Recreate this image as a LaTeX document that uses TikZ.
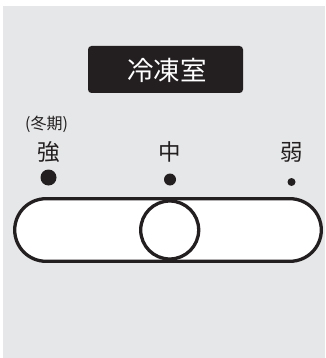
\documentclass[tikz,border=0pt]{standalone}
\usepackage{fontspec}
\newfontfamily\jpfont{Noto Sans CJK JP}
\definecolor{panelgrey}{HTML}{E6E7E8}
\definecolor{inkblack}{HTML}{231F20}
\tikzset{
  mark label/.style={inner sep=0pt, text=inkblack, font=\jpfont\fontsize{22.5}{22.5}\selectfont},
  dial line/.style={draw=inkblack, line width=3.3pt},
}
\begin{document}
\begin{tikzpicture}[x=1pt,y=-1pt]
            \useasboundingbox (0,0) rectangle (325,358) ;
            \fill[panelgrey] (3,6) rectangle (325,358) ;
            \fill[inkblack, rounded corners=3.5pt] (88,46) rectangle (243,93) ;
            \node[inner sep=0pt, text=white, font=\jpfont\fontsize{26.5}{26.5}\selectfont] (title) at (167,70) {冷凍室} ;
            \node[inner sep=0pt, text=inkblack, font=\jpfont\fontsize{16}{16}\selectfont] (winter) at (46.5,124) {(冬期)} ;
            \node[mark label] (strong) at (48.5,152) {強} ;
            \node[mark label] (middle) at (170,152) {中} ;
            \node[mark label] (weak) at (291.5,152) {弱} ;
            \fill[inkblack] (48.5,177.5) circle (8) ;
            \fill[inkblack] (170,179.5) circle (6) ;
            \fill[inkblack] (291.5,182) circle (4) ;
            \draw[dial line, fill=white, rounded corners=31.3pt] (14.7,198.7) rectangle (321.3,261.3) ;
            \draw[dial line] (169.7,230) circle (29) ;
        \end{tikzpicture}
\end{document}
